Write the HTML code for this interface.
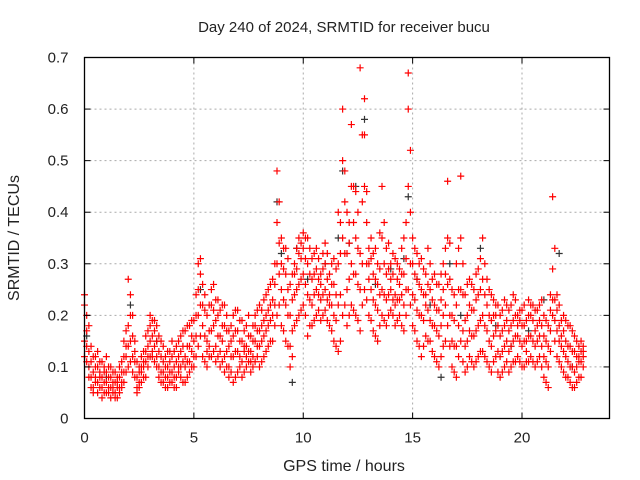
<!DOCTYPE html>
<html><head><meta charset="utf-8"><style>
body{margin:0;background:#fff;}
svg{display:block;font-family:"Liberation Sans",sans-serif;}
</style></head><body>
<svg id="chart" width="640" height="480" viewBox="0 0 640 480" xmlns="http://www.w3.org/2000/svg">
<rect width="640" height="480" fill="#fff"/>
<text x="344" y="32" font-size="15" text-anchor="middle" fill="#222">Day 240 of 2024, SRMTID for receiver bucu</text>
<g id="grid"></g>
<g id="black"></g>
<g id="red"></g>
<rect x="84.5" y="57.5" width="525" height="361" fill="none" stroke="#000" stroke-width="1.3"/>
<g id="axes"></g>
<text x="344" y="471" font-size="16" text-anchor="middle" fill="#222">GPS time / hours</text>
<text transform="translate(19,238) rotate(-90)" font-size="16" text-anchor="middle" fill="#222">SRMTID / TECUs</text>
</svg>
<script>
const xTicks=[0,5,10,15,20];
const yTicks=[0,0.1,0.2,0.3,0.4,0.5,0.6,0.7];
const yTickLabels=["0","0.1","0.2","0.3","0.4","0.5","0.6","0.7"];
const redTimes=[0,0.2,0.4,0.6,0.8,1.0,1.2,1.4,1.6,1.8,2.0,2.2,2.4,2.6,2.8,3.0,3.2,3.4,3.6,3.8,4.0,4.2,4.4,4.6,4.8,5.0,5.2,5.4,5.6,5.8,6.0,6.2,6.4,6.6,6.8,7.0,7.2,7.4,7.6,7.8,8.0,8.2,8.4,8.6,8.8,9.0,9.2,9.4,9.6,9.8,10.0,10.2,10.4,10.6,10.8,11.0,11.2,11.4,11.6,11.8,12.0,12.2,12.4,12.6,12.8,13.0,13.2,13.4,13.6,13.8,14.0,14.2,14.4,14.6,14.8,15.0,15.2,15.4,15.6,15.8,16.0,16.2,16.4,16.6,16.8,17.0,17.2,17.4,17.6,17.8,18.0,18.2,18.4,18.6,18.8,19.0,19.2,19.4,19.6,19.8,20.0,20.2,20.4,20.6,20.8,21.0,21.2,21.4,21.6,21.8,22.0,22.2,22.4,22.6,22.8];
const redValues=[
[.22,.15,.12,.24],[.10,.13,.08,.18],[.06,.09,.12,.05],[.07,.10,.05,.13],[.04,.08,.11,.06],
[.05,.09,.07,.12],[.06,.04,.08,.10],[.05,.07,.09,.04],[.06,.08,.05,.10],[.07,.12,.09,.15],
[.10,.18,.27,.14],[.12,.09,.16,.20],[.06,.08,.11,.05],[.07,.10,.09,.12],[.08,.13,.11,.16],
[.12,.18,.15,.20],[.14,.11,.17,.19],[.10,.13,.16,.08],[.07,.11,.09,.14],[.06,.10,.13,.08],
[.09,.12,.07,.15],[.08,.11,.14,.06],[.10,.13,.08,.16],[.07,.12,.10,.17],[.09,.14,.18,.11],
[.10,.15,.12,.19],[.14,.20,.25,.30],[.12,.18,.22,.26],[.10,.15,.20,.13],[.12,.17,.22,.25],
[.14,.19,.11,.23],[.10,.16,.21,.13],[.12,.18,.22,.09],[.10,.14,.17,.08],[.07,.12,.16,.20],
[.09,.13,.17,.21],[.08,.11,.15,.19],[.10,.14,.12,.18],[.09,.13,.16,.11],[.11,.15,.18,.20],
[.10,.14,.17,.22],[.12,.16,.19,.23],[.14,.18,.21,.25],[.15,.20,.23,.27],[.20,.30,.38,.48],
[.18,.25,.30,.35],[.15,.22,.28,.33],[.10,.14,.20,.26],[.18,.24,.30,.28],[.20,.26,.32,.35],
[.22,.28,.33,.36],[.16,.24,.30,.35],[.18,.22,.27,.31],[.20,.25,.29,.33],[.19,.23,.28,.26],
[.21,.25,.30,.34],[.18,.24,.28,.22],[.15,.20,.26,.31],[.13,.22,.30,.40],[.20,.35,.50,.60],
[.18,.25,.32,.40],[.22,.30,.45,.57],[.20,.28,.35,.44],[.17,.25,.32,.68],[.25,.45,.55,.62],
[.20,.27,.33,.30],[.17,.23,.28,.32],[.15,.21,.26,.30],[.20,.25,.35,.45],[.18,.23,.28,.33],
[.21,.25,.30,.27],[.18,.24,.22,.31],[.20,.26,.23,.29],[.17,.22,.28,.35],[.25,.45,.60,.67],
[.18,.24,.30,.35],[.15,.21,.27,.32],[.12,.20,.25,.31],[.16,.22,.28,.24],[.15,.19,.25,.30],
[.12,.18,.22,.28],[.10,.16,.21,.26],[.14,.20,.25,.30],[.18,.26,.35,.46],[.10,.15,.20,.25],
[.08,.14,.22,.30],[.15,.25,.35,.47],[.09,.14,.19,.24],[.12,.17,.22,.27],[.10,.16,.21,.25],
[.12,.18,.24,.29],[.13,.20,.27,.35],[.11,.17,.22,.27],[.09,.14,.19,.24],[.12,.17,.22,.20],
[.08,.12,.16,.20],[.10,.14,.18,.23],[.09,.13,.17,.21],[.11,.15,.19,.24],[.12,.16,.20,.18],
[.10,.14,.18,.21],[.11,.15,.19,.13],[.12,.16,.20,.22],[.10,.14,.17,.21],[.12,.16,.19,.22],
[.08,.12,.16,.20],[.06,.10,.14,.18],[.20,.23,.29,.43],[.12,.17,.21,.24],[.10,.14,.19,.16],
[.08,.12,.15,.19],[.07,.10,.14,.18],[.06,.09,.13,.16],[.08,.11,.14,.12],[.10,.12,.14,.13]];
const redTimes2=[0.1,0.3,0.5,0.7,0.9,1.1,1.3,1.5,1.7,1.9,2.1,2.3,2.5,2.7,2.9,3.1,3.3,3.5,3.7,3.9,4.1,4.3,4.5,4.7,4.9,5.1,5.3,5.5,5.7,5.9,6.1,6.3,6.5,6.7,6.9,7.1,7.3,7.5,7.7,7.9,8.1,8.3,8.5,8.7,8.9,9.1,9.3,9.5,9.7,9.9,10.1,10.3,10.5,10.7,10.9,11.1,11.3,11.5,11.7,11.9,12.1,12.3,12.5,12.7,12.9,13.1,13.3,13.5,13.7,13.9,14.1,14.3,14.5,14.7,14.9,15.1,15.3,15.5,15.7,15.9,16.1,16.3,16.5,16.7,16.9,17.1,17.3,17.5,17.7,17.9,18.1,18.3,18.5,18.7,18.9,19.1,19.3,19.5,19.7,19.9,20.1,20.3,20.5,20.7,20.9,21.1,21.3,21.5,21.7,21.9,22.1,22.3,22.5,22.7];
const redValues2=[
[.11,.14,.17,.20],[.08,.11,.14,.06],[.07,.10,.08,.12],[.06,.09,.11,.08],[.05,.07,.10,.09],
[.06,.08,.10,.05],[.05,.07,.09,.06],[.06,.08,.04,.07],[.07,.09,.06,.11],[.09,.12,.14,.17],
[.11,.15,.20,.24],[.08,.11,.13,.15],[.07,.09,.06,.10],[.08,.11,.10,.13],[.10,.14,.12,.17],
[.13,.16,.19,.12],[.12,.15,.18,.10],[.09,.12,.15,.07],[.08,.10,.12,.06],[.07,.09,.11,.13],
[.08,.10,.13,.06],[.09,.12,.10,.15],[.11,.14,.07,.17],[.08,.11,.14,.18],[.10,.13,.16,.19],
[.12,.16,.20,.24],[.16,.22,.28,.31],[.11,.16,.21,.24],[.12,.17,.14,.22],[.13,.18,.21,.26],
[.12,.16,.20,.23],[.11,.15,.18,.22],[.10,.13,.17,.20],[.09,.12,.15,.18],[.08,.13,.17,.21],
[.10,.12,.15,.19],[.09,.13,.14,.17],[.11,.13,.16,.20],[.10,.12,.15,.18],[.12,.14,.17,.21],
[.11,.15,.18,.21],[.13,.17,.20,.24],[.15,.19,.22,.26],[.18,.22,.26,.30],[.22,.28,.34,.42],
[.17,.23,.29,.33],[.14,.20,.25,.31],[.12,.17,.23,.28],[.19,.25,.29,.33],[.21,.27,.31,.34],
[.20,.26,.31,.35],[.18,.23,.28,.33],[.19,.24,.28,.32],[.21,.24,.27,.31],[.20,.24,.29,.32],
[.19,.23,.27,.32],[.17,.22,.26,.30],[.14,.19,.24,.29],[.15,.24,.32,.38],[.22,.32,.42,.48],
[.20,.27,.34,.38],[.21,.28,.38,.45],[.19,.26,.33,.40],[.22,.30,.42,.55],[.23,.30,.38,.44],
[.19,.25,.31,.35],[.16,.22,.27,.33],[.18,.24,.29,.36],[.19,.24,.30,.38],[.20,.24,.29,.34],
[.20,.23,.28,.32],[.19,.23,.27,.30],[.18,.24,.28,.33],[.20,.25,.31,.38],[.22,.30,.40,.52],
[.17,.23,.28,.33],[.14,.20,.26,.30],[.14,.19,.24,.29],[.15,.21,.26,.33],[.13,.18,.23,.27],
[.11,.17,.21,.26],[.12,.18,.23,.28],[.15,.22,.28,.33],[.14,.20,.27,.34],[.09,.14,.19,.24],
[.12,.18,.25,.33],[.11,.17,.24,.30],[.10,.15,.20,.26],[.11,.16,.21,.26],[.11,.17,.23,.28],
[.13,.19,.25,.31],[.12,.18,.24,.30],[.10,.15,.20,.25],[.11,.16,.20,.23],[.09,.13,.18,.22],
[.09,.13,.17,.21],[.11,.15,.19,.22],[.10,.14,.18,.22],[.11,.16,.20,.23],[.11,.15,.19,.21],
[.10,.15,.18,.22],[.11,.16,.20,.23],[.11,.15,.19,.22],[.11,.15,.18,.21],[.10,.14,.18,.23],
[.07,.11,.15,.19],[.13,.17,.21,.24],[.15,.19,.23,.33],[.11,.15,.18,.22],[.09,.13,.17,.20],
[.08,.11,.14,.18],[.06,.10,.13,.17],[.07,.10,.12,.15],[.08,.11,.13,.15]];
const blackTimes=[0.1,1.0,2.1,3.3,5.3,8.8,9.0,9.5,9.7,10.2,11.0,11.6,11.8,12.1,12.4,12.8,13.3,14.0,14.6,14.8,15.2,15.8,16.3,16.7,17.2,18.1,18.8,19.5,20.3,21.0,21.7,22.3];
const blackValues=[0.16,0.08,0.22,0.15,0.25,0.42,0.32,0.07,0.33,0.27,0.30,0.35,0.48,0.34,0.45,0.58,0.26,0.29,0.31,0.43,0.27,0.22,0.08,0.30,0.20,0.33,0.18,0.14,0.17,0.23,0.32,0.10];

const X0=84.5,X1=609.5,Y0=418.5,Y1=57.5;
const xScale=t=>X0+(t/24)*(X1-X0);
const yScale=v=>Y0-(v/0.7)*(Y0-Y1);
const NS="http://www.w3.org/2000/svg";
function mk(tag,attrs,parent){const e=document.createElementNS(NS,tag);for(const k in attrs)e.setAttribute(k,attrs[k]);parent.appendChild(e);return e;}
const grid=document.getElementById('grid'),axes=document.getElementById('axes');
xTicks.forEach(t=>{const x=xScale(t);
 if(t>0){const g=mk('line',{x1:x,x2:x,y1:Y1,y2:Y0,stroke:'#aaa','stroke-dasharray':'2,3'},grid);
 
 }
 mk('line',{x1:x,x2:x,y1:Y0,y2:Y0-6,stroke:'#000'},axes);
 mk('line',{x1:x,x2:x,y1:Y1,y2:Y1+6,stroke:'#000'},axes);
 const tx=mk('text',{x:x,y:Y0+24,'font-size':15,'text-anchor':'middle',fill:'#222'},axes);tx.textContent=t;
 
 
});
yTicks.forEach((v,i)=>{const y=yScale(v);
 if(i>0&&i<yTicks.length-1){const g=mk('line',{x1:X0,x2:X1,y1:y,y2:y,stroke:'#aaa','stroke-dasharray':'2,3'},grid);
 
 }
 mk('line',{x1:X0,x2:X0+6,y1:y,y2:y,stroke:'#000'},axes);
 mk('line',{x1:X1,x2:X1-6,y1:y,y2:y,stroke:'#000'},axes);
 const tx=mk('text',{x:X0-16,y:y+5,'font-size':15,'text-anchor':'end',fill:'#222'},axes);tx.textContent=yTickLabels[i];
 
 
});
function plus(parent,t,v,color){const x=xScale(t),y=yScale(v);
 return mk('path',{d:`M${x-3.5} ${y}h7M${x} ${y-3.5}v7`,stroke:color,'stroke-width':1.2,fill:'none'},parent);}
const bg=document.getElementById('black');
blackTimes.forEach((t,i)=>{const p=plus(bg,t,blackValues[i],'#333');
 
 });
const rg=document.getElementById('red');
redTimes.forEach((t,i)=>{(redValues[i]||[]).forEach(v=>{const p=plus(rg,t,v,'#f00');
 
 });});
redTimes2.forEach((t,i)=>{(redValues2[i]||[]).forEach(v=>{const p=plus(rg,t,v,'#f00');
 
 });});
</script>
</body></html>
